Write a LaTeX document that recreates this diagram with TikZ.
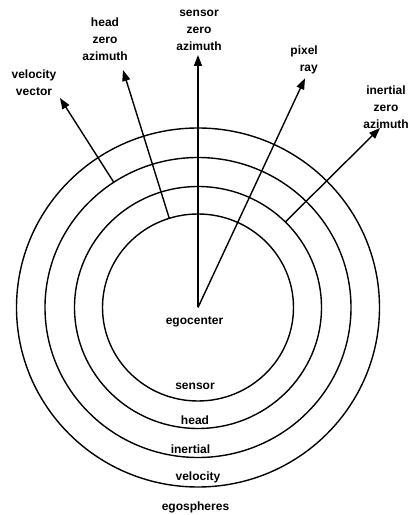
\documentclass[tikz,border=0pt]{standalone}
\usepackage{fontspec}
\setmainfont{Liberation Sans}
\usetikzlibrary{arrows.meta}

\begin{document}
\begin{tikzpicture}[x=1pt,y=1pt,
  sphere/.style={line width=1.4pt},
  axis/.style={line width=1.4pt,-{Triangle[length=11pt,width=8pt]}},
  lbl/.style={font=\bfseries\fontsize{12}{17}\selectfont,align=center,inner sep=0pt}]
  \useasboundingbox (0,0) rectangle (408,515);
  \coordinate (ego) at (198,207.5);
  % the four egospheres
  \foreach \rx/\ry in {95.5/93.5,123.5/121,153/150,181.5/179.5}
     {\draw[sphere] (ego) ellipse [x radius=\rx, y radius=\ry];}
  % where the azimuth lines leave the spheres
  \coordinate (hfoot) at ([shift={(107.5:95.5 and 93.5)}]ego);
  \coordinate (ifoot) at ([shift={(45:123.5 and 121)}]ego);
  \coordinate (vfoot) at ([shift={(123.4:153 and 150)}]ego);
  % arrow tips
  \coordinate (stip) at (198,460);
  \coordinate (ptip) at (305,436.7);
  \coordinate (htip) at (123,445);
  \coordinate (vtip) at (60,417);
  \coordinate (itip) at (380,387);
  %
  \draw[axis] (ego) -- (stip);
  \draw[axis] (ego) -- (ptip);
  \draw[axis] (hfoot) -- (htip);
  \draw[axis] (ifoot) -- (itip);
  \draw[axis] (vfoot) -- (vtip);
  %
  \node[lbl] (szero) at (199,485) {sensor\\zero\\azimuth};
  \node[lbl] (hzero) at (105,476) {head\\zero\\azimuth};
  \node[lbl] (vvec) at (34,432.5) {velocity\\vector};
  \node[lbl,align=right,anchor=east] (pray) at (318,455) {pixel\\ray};
  \node[lbl] (izero) at (386,408) {inertial\\zero\\azimuth};
  \node[lbl] (egoc) at (194.5,193) {egocenter};
  % sphere names
  \node[lbl] (lsensor) at (195,128.3) {sensor};
  \node[lbl] (lhead) at (195,94.3) {head};
  \node[lbl] (linertial) at (190.5,66) {inertial};
  \node[lbl] (lvelocity) at (198,37.3) {velocity};
  \node[lbl] (lego) at (195.5,7.5) {egospheres};
\end{tikzpicture}
\end{document}
